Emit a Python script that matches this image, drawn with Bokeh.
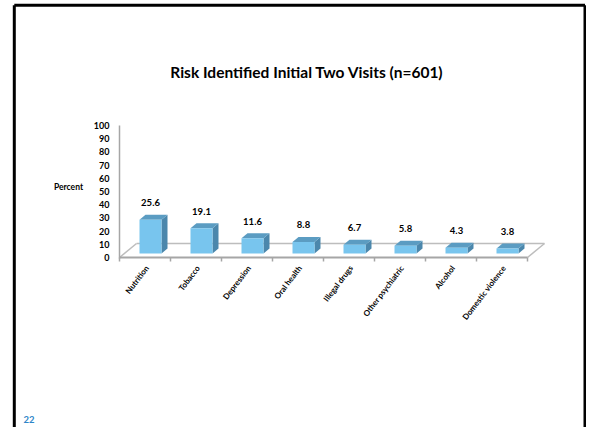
import numpy as np
from bokeh.plotting import figure
from bokeh.models import Range1d
from bokeh.core.properties import value
from bokeh.embed import file_html
from bokeh.resources import INLINE

# ---------------- data ----------------
categories = ["Nutrition", "Tobacco", "Depression", "Oral health",
              "Illegal drugs", "Other psychiatric", "Alcohol", "Domestic violence"]
percent = [25.6, 19.1, 11.6, 8.8, 6.7, 5.8, 4.3, 3.8]
value_labels = ["25.6", "19.1", "11.6", "8.8", "6.7", "5.8", "4.3", "3.8"]
y_ticks = [0, 10, 20, 30, 40, 50, 60, 70, 80, 90, 100]
y_tick_labels = [str(t) for t in y_ticks]
title_text = "Risk Identified Initial Two Visits (n=601)"
y_label = "Percent"
page_number = "22"

# ---------------- layout ----------------
W, H = 586, 427
PX_X = 51.0      # pixels per category
PX_Y = 1.32      # pixels per percent
X0 = 119.0       # px (from left) of x = 0
Y0_TOP = 257.0   # px (from top) of y = 0
Y0 = H - Y0_TOP  # px from bottom of y = 0

def dx(px):
    return px / PX_X

def dy(px):
    return px / PX_Y

def sx(px):      # screen x -> data x
    return (px - X0) / PX_X

def sy(px):      # screen y (from top) -> data y
    return (Y0_TOP - px) / PX_Y

FONT = value("Lato")

p = figure(width=W, height=H,
           x_range=Range1d(-X0 / PX_X, (W - X0) / PX_X),
           y_range=Range1d(-Y0 / PX_Y, (H - Y0) / PX_Y),
           x_axis_type=None, y_axis_type=None,
           toolbar_location=None, output_backend="svg",
           min_border=0, outline_line_color=None,
           background_fill_color="white", border_fill_color="white")

n = len(categories)
idx = np.arange(n)
vals = np.array(percent)

# slide border
bx_left = sx(13.8)
bx_right = sx(W - 1.5)
by_top = sy(4.7)
by_bottom = sy(H)
p.line([bx_left, bx_left], [by_bottom, by_top], line_color="black", line_width=3)
p.line([bx_left, bx_right], [by_top, by_top], line_color="black", line_width=3)
p.line([bx_right, bx_right], [by_top, by_bottom], line_color="black", line_width=3)

# floor (3D base)
BX, BY = dx(17), dy(14)
p.line([BX, n + BX], [BY, BY], line_color="#BDBDBD", line_width=1.5)
p.line([0, BX], [0, BY], line_color="#BDBDBD", line_width=1.5)
p.line([n, n + BX], [0, BY], line_color="#BDBDBD", line_width=1.5)
p.line([0, n], [0, 0], line_color="#A6A6A6", line_width=2)
ticks_x = np.arange(n + 1)
p.segment(x0=ticks_x, y0=np.zeros(n + 1), x1=ticks_x, y1=np.full(n + 1, dy(-4)),
          line_color="#A6A6A6", line_width=1.5)

# y axis line
p.line([0, 0], [dy(-1), 100], line_color="#A6A6A6", line_width=1.5)

# bars (3D)
left = idx + dx(20)
right = left + dx(22)
bottom = np.full(n, dy(4))
top = bottom + vals
DX, DY = dx(6), dy(5)

p.patches(xs=[[r, r + DX, r + DX, r] for r in right],
          ys=[[b, b + DY, t + DY, t] for b, t in zip(bottom, top)],
          fill_color="#4B87AC", line_color=None)
p.patches(xs=[[l, r, r + DX, l + DX] for l, r in zip(left, right)],
          ys=[[t, t, t + DY, t + DY] for t in top],
          fill_color="#5B9CC2", line_color=None)
p.quad(left=left, right=right, bottom=bottom, top=top,
       fill_color="#78C5EE", line_color=None)

# value labels
p.text(x=left + dx(11), y=top + dy(17), text=value_labels,
       text_align="center", text_baseline="middle",
       text_font=FONT, text_font_style="bold", text_font_size="9.5px",
       text_color="black")

# y tick labels
p.text(x=np.full(len(y_ticks), dx(-10)), y=y_ticks, text=y_tick_labels,
       text_align="right", text_baseline="middle",
       text_font=FONT, text_font_style="bold", text_font_size="9px",
       text_color="black")

# y label
p.text(x=[sx(68)], y=[sy(186)], text=[y_label],
       text_align="center", text_baseline="middle",
       text_font=FONT, text_font_style="bold", text_font_size="8.5px",
       text_color="black")

# category labels (rotated)
p.text(x=idx + 0.5 + dx(2), y=np.full(n, dy(-9)), text=categories,
       angle=0.92, text_align="right", text_baseline="middle",
       text_font=FONT, text_font_style="bold", text_font_size="8px",
       text_color="black")

# title
p.text(x=[sx(306.5)], y=[sy(71)], text=[title_text],
       text_align="center", text_baseline="middle",
       text_font=FONT, text_font_style="bold", text_font_size="15.5px",
       text_color="black")

# page number
p.text(x=[sx(23)], y=[sy(419)], text=[page_number],
       text_align="left", text_baseline="middle",
       text_font=FONT, text_font_style="bold", text_font_size="9.5px",
       text_color="#2E86C8")

open("out.html", "w").write(file_html(p, INLINE))
